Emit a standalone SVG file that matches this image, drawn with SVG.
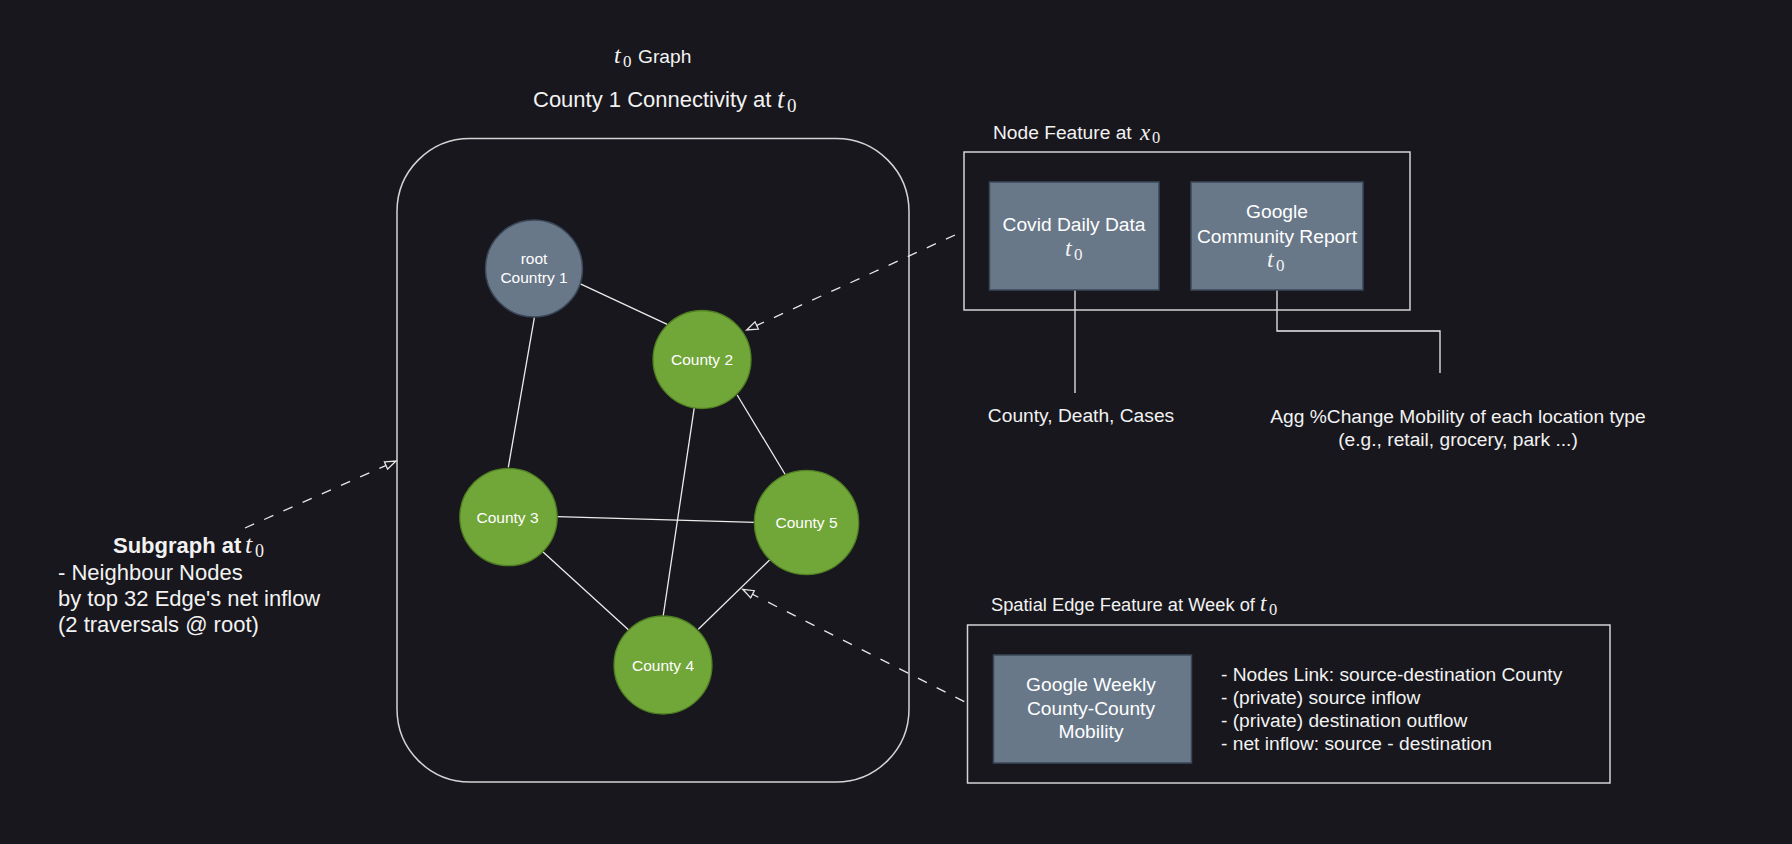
<svg xmlns="http://www.w3.org/2000/svg" width="1792" height="844" viewBox="0 0 1792 844">
<defs>
<style>
text{font-family:"Liberation Sans",Arial,sans-serif;fill:#f2f2f2}
.s19{font-size:19.2px}
.s22{font-size:22px}
.nl{font-size:15.5px;fill:#ffffff;text-anchor:middle}
.bl{font-size:19.2px;fill:#ffffff;text-anchor:middle}
.mi{font-family:"Liberation Serif","Times New Roman",serif;font-style:italic}
.mn{font-family:"Liberation Serif","Times New Roman",serif}
.edge{stroke:#ececec;stroke-width:1.3;fill:none}
.dash{stroke:#e6e6e6;stroke-width:1.3;fill:none;stroke-dasharray:10 11;marker-end:url(#open)}
.green{fill:#71a638;stroke:#4f7f22;stroke-width:1.3}
.grey{fill:#687889;stroke:#3a4859;stroke-width:1.5}
.frame{fill:none;stroke:#d4d4d4;stroke-width:1.5}
</style>
<marker id="open" markerUnits="userSpaceOnUse" markerWidth="14" markerHeight="12" refX="12" refY="5" orient="auto" viewBox="0 0 14 12">
<path d="M1,1 L12,5 L1,9 Z" fill="#18171d" stroke="#e6e6e6" stroke-width="1.3"/>
</marker>
</defs>
<rect width="1792" height="844" fill="#18171d"/>

<g id="titles">
<text class="mi" x="614" y="63" font-size="24">t</text>
<text class="mn" x="623" y="67" font-size="17">0</text>
<text class="s19" x="638" y="63">Graph</text>
<text class="s22" x="533" y="107">County 1 Connectivity at</text>
<text class="mi" x="777" y="108" font-size="27">t</text>
<text class="mn" x="787" y="112" font-size="19">0</text>
</g>

<g id="graph-frame">
<rect class="frame" x="397" y="138.5" width="512" height="643.5" rx="73" ry="73"/>
</g>

<g id="connectors">
<line class="edge" x1="579.3" y1="283.3" x2="667.2" y2="324.3"/>
<line class="edge" x1="534.4" y1="317.3" x2="508.3" y2="467.3"/>
<line class="edge" x1="694.3" y1="407.3" x2="663.2" y2="616"/>
<line class="edge" x1="737.2" y1="395" x2="785.5" y2="475"/>
<line class="edge" x1="557.3" y1="516.7" x2="754.4" y2="522.3"/>
<line class="edge" x1="542.8" y1="551.7" x2="628.7" y2="630"/>
<line class="edge" x1="698.3" y1="629.3" x2="769.6" y2="560"/>
<path class="dash" d="M955,235 L746.7,330"/>
<path class="dash" d="M245,528 L396,461"/>
<path class="dash" d="M964.3,701.7 L742.7,589.3"/>
<path class="edge" d="M1075,290 V393"/>
<path class="edge" d="M1277,290 V331 H1440 V373"/>
</g>

<g id="root">
<circle class="grey" cx="534" cy="268.5" r="48.5"/>
<text class="nl" x="534" y="264">root</text>
<text class="nl" x="534" y="283">Country 1</text>
</g>
<g id="county2">
<circle class="green" cx="702" cy="359.5" r="49"/>
<text class="nl" x="702" y="365">County 2</text>
</g>
<g id="county3">
<circle class="green" cx="508.5" cy="517" r="48.7"/>
<text class="nl" x="507.5" y="522.5">County 3</text>
</g>
<g id="county5">
<circle class="green" cx="806.5" cy="522.5" r="52.2"/>
<text class="nl" x="806.5" y="528">County 5</text>
</g>
<g id="county4">
<circle class="green" cx="663" cy="665" r="49"/>
<text class="nl" x="663" y="670.5">County 4</text>
</g>

<g id="node-feature">
<text class="s19" x="993" y="139">Node Feature at</text>
<text class="mi" x="1140" y="139.5" font-size="23">x</text>
<text class="mn" x="1152" y="143" font-size="16.5">0</text>
<rect class="frame" x="964" y="152" width="446" height="158" stroke="#c4c4c4"/>
</g>

<g id="covid">
<rect class="grey" x="989.5" y="182" width="169.5" height="108"/>
<text class="bl" x="1074" y="231">Covid Daily Data</text>
<text class="mi" x="1065" y="256" font-size="24">t</text>
<text class="mn" x="1074" y="260" font-size="17">0</text>
</g>

<g id="google-community">
<rect class="grey" x="1191" y="182" width="172" height="108"/>
<text class="bl" x="1277" y="218">Google</text>
<text class="bl" x="1277" y="243">Community Report</text>
<text class="mi" x="1267" y="267" font-size="24">t</text>
<text class="mn" x="1276" y="271" font-size="17">0</text>
</g>

<g id="covid-label">
<text class="s19" x="1081" y="422" text-anchor="middle">County, Death, Cases</text>
</g>

<g id="mobility-label">
<text class="s19" x="1458" y="422.5" text-anchor="middle">Agg %Change Mobility of each location type</text>
<text class="s19" x="1458" y="445.5" text-anchor="middle">(e.g., retail, grocery, park ...)</text>
</g>

<g id="subgraph-label">
<text class="s22" x="113" y="553" font-weight="bold">Subgraph at</text>
<text class="mi" x="245" y="553" font-size="26">t</text>
<text class="mn" x="255" y="557" font-size="18">0</text>
<text class="s22" x="58" y="579.5">- Neighbour Nodes</text>
<text class="s22" x="58" y="606">by top 32 Edge's net inflow</text>
<text class="s22" x="58" y="632">(2 traversals @ root)</text>
</g>

<g id="spatial-edge">
<text x="991" y="610.5" font-size="18.3">Spatial Edge Feature at Week of</text>
<text class="mi" x="1260" y="611" font-size="23">t</text>
<text class="mn" x="1269" y="615" font-size="16.5">0</text>
<rect class="frame" x="967.5" y="625" width="642.5" height="158" stroke="#c8c8c8"/>
</g>

<g id="google-weekly">
<rect class="grey" x="993.5" y="655" width="198" height="108"/>
<text class="bl" x="1091" y="691">Google Weekly</text>
<text class="bl" x="1091" y="714.5">County-County</text>
<text class="bl" x="1091" y="738">Mobility</text>
</g>

<g id="edge-feature-list">
<text class="s19" x="1221" y="681">- Nodes Link: source-destination County</text>
<text class="s19" x="1221" y="704">- (private) source inflow</text>
<text class="s19" x="1221" y="727">- (private) destination outflow</text>
<text class="s19" x="1221" y="750">- net inflow: source - destination</text>
</g>
</svg>
